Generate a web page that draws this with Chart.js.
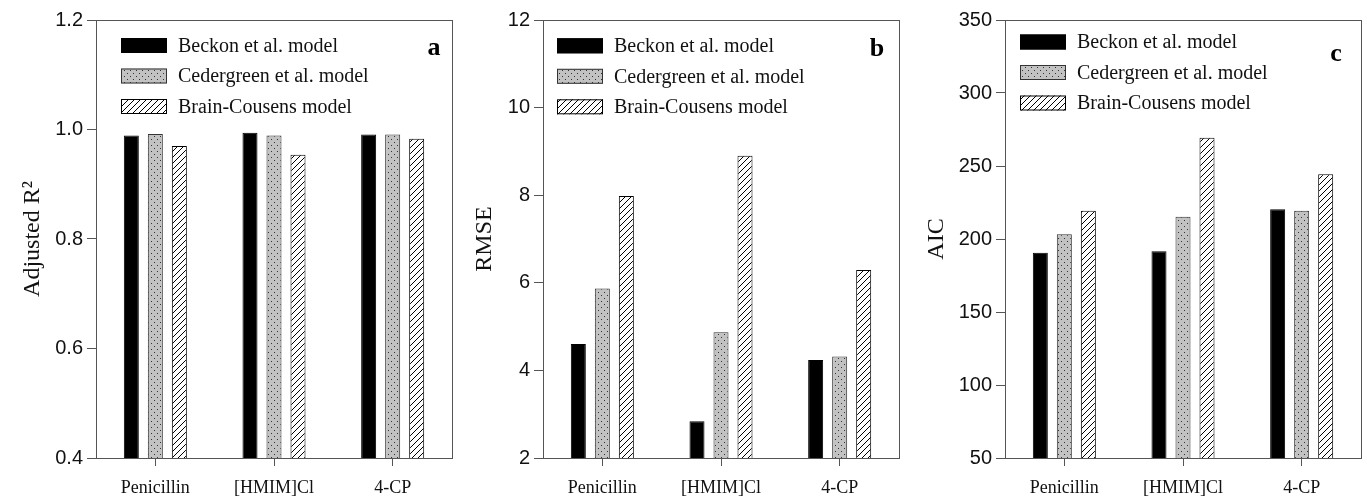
<!DOCTYPE html>
<html>
<head>
<meta charset="utf-8">
<script src="https://cdn.jsdelivr.net/npm/chart.js@4"></script>
<style>
  body { margin: 0; background: #fff; }
  #wrap { position: relative; width: 1367px; height: 502px; }
  canvas { position: absolute; top: 0; }
</style>
</head>
<body>
<div id="wrap">
  <canvas id="chartA" width="470" height="502" style="left:0px"></canvas>
  <canvas id="chartB" width="458" height="502" style="left:462px"></canvas>
  <canvas id="chartC" width="445" height="502" style="left:922px"></canvas>
</div>
<script>
const categories = ['Penicillin', '[HMIM]Cl', '4-CP'];
const modelNames = ['Beckon et al. model', 'Cedergreen et al. model', 'Brain-Cousens model'];

// a - adjusted R2
const r2Beckon = [0.989, 0.994, 0.991];
const r2Cedergreen = [0.992, 0.989, 0.991];
const r2BrainCousens = [0.970, 0.954, 0.983];

// b - RMSE
const rmseBeckon = [4.60, 2.84, 4.24];
const rmseCedergreen = [5.87, 4.87, 4.32];
const rmseBrainCousens = [7.98, 8.90, 6.29];

// c - AIC
const aicBeckon = [190.6, 191.6, 220.3];
const aicCedergreen = [203.2, 215.3, 219.4];
const aicBrainCousens = [219.4, 269.4, 244.3];

const SERIF = "'Liberation Serif', 'Times New Roman', serif";
const SANS = "'Liberation Sans', Arial, sans-serif";

function makePattern(kind) {
  const c = document.createElement('canvas');
  c.width = 6; c.height = 6;
  const g = c.getContext('2d');
  if (kind === 'dots') {
    g.fillStyle = '#c2c2c2';
    g.fillRect(0, 0, 6, 6);
    g.fillStyle = '#333';
    g.fillRect(1, 1, 1, 1);
    g.fillRect(4, 4, 1, 1);
  } else {
    g.fillStyle = '#fff';
    g.fillRect(0, 0, 6, 6);
    g.strokeStyle = '#000';
    g.lineWidth = 1;
    g.beginPath();
    g.moveTo(0, 6); g.lineTo(6, 0);
    g.moveTo(-1, 1); g.lineTo(1, -1);
    g.moveTo(5, 7); g.lineTo(7, 5);
    g.stroke();
  }
  return g.createPattern(c, 'repeat');
}

const dotFill = makePattern('dots');
const hatchFill = makePattern('hatch');

// frame, inside legend and panel letter
const panelDecor = {
  id: 'panelDecor',
  afterDraw(chart, args, o) {
    const { ctx, chartArea: a } = chart;
    ctx.save();
    ctx.strokeStyle = '#555';
    ctx.lineWidth = 1;
    ctx.strokeRect(Math.round(a.left) + 0.5, Math.round(a.top) + 0.5,
      Math.round(a.right - a.left), Math.round(a.bottom - a.top));

    chart.data.datasets.forEach((ds, i) => {
      const x = a.left + o.legendX;
      const cy = a.top + o.legendY + i * 30.5;
      ctx.fillStyle = ds.backgroundColor;
      ctx.fillRect(x, cy - 7.5, 46, 15);
      ctx.strokeStyle = ds.borderColor;
      ctx.strokeRect(x + 0.5, cy - 7, 45, 14);
      ctx.fillStyle = '#111';
      ctx.font = '20px ' + SERIF;
      ctx.textAlign = 'left';
      ctx.textBaseline = 'middle';
      ctx.fillText(ds.label, x + 57, cy + 1);
    });

    ctx.font = 'bold 26px ' + SERIF;
    ctx.textAlign = 'center';
    ctx.textBaseline = 'middle';
    ctx.fillStyle = '#000';
    ctx.fillText(o.letter, a.right - o.letterX, a.top + o.letterY);
    ctx.restore();
  }
};

function drawPanel(id, p) {
  new Chart(document.getElementById(id), {
    type: 'bar',
    data: {
      labels: categories,
      datasets: [
        { label: modelNames[0], data: p.series[0], backgroundColor: '#000', borderColor: '#000', borderWidth: 1 },
        { label: modelNames[1], data: p.series[1], backgroundColor: dotFill, borderColor: '#333', borderWidth: 1 },
        { label: modelNames[2], data: p.series[2], backgroundColor: hatchFill, borderColor: '#000', borderWidth: 1 }
      ]
    },
    options: {
      responsive: false,
      animation: false,
      layout: { padding: { top: 20, right: p.padRight, left: 0, bottom: 0 } },
      datasets: { bar: { categoryPercentage: 0.607, barPercentage: 0.625 } },
      plugins: {
        legend: { display: false },
        tooltip: { enabled: false },
        panelDecor: p.decor
      },
      scales: {
        x: {
          grid: { offset: false, drawOnChartArea: false, drawTicks: true, tickLength: 8, color: '#555' },
          border: { display: false },
          ticks: { font: { family: SERIF, size: 18 }, color: '#111', padding: 11 },
          afterFit: s => { s.height = 44; }
        },
        y: {
          min: p.min,
          max: p.max,
          ticks: {
            stepSize: p.step,
            font: { family: SANS, size: 20 },
            color: '#111',
            padding: 4,
            callback: v => v.toFixed(p.decimals)
          },
          grid: { drawOnChartArea: false, drawTicks: true, tickLength: 9, color: '#555' },
          border: { display: false },
          title: {
            display: true,
            text: p.title,
            font: { family: SERIF, size: 24 },
            color: '#111',
            padding: { top: p.titlePad, bottom: 0 }
          },
          afterFit: s => { s.width = p.axisWidth; }
        }
      }
    },
    plugins: [panelDecor]
  });
}

drawPanel('chartA', {
  series: [r2Beckon, r2Cedergreen, r2BrainCousens],
  min: 0.4, max: 1.2, step: 0.2, decimals: 1,
  title: 'Adjusted R²',
  axisWidth: 96, padRight: 18, titlePad: 18,
  decor: { letter: 'a', letterX: 18, letterY: 28, legendX: 25, legendY: 25.5 }
});

drawPanel('chartB', {
  series: [rmseBeckon, rmseCedergreen, rmseBrainCousens],
  min: 2, max: 12, step: 2, decimals: 0,
  title: 'RMSE',
  axisWidth: 81, padRight: 21, titlePad: 8,
  decor: { letter: 'b', letterX: 22, letterY: 29, legendX: 14, legendY: 25.8 }
});

drawPanel('chartC', {
  series: [aicBeckon, aicCedergreen, aicBrainCousens],
  min: 50, max: 350, step: 50, decimals: 0,
  title: 'AIC',
  axisWidth: 83, padRight: 6, titlePad: 0,
  decor: { letter: 'c', letterX: 25, letterY: 34, legendX: 15, legendY: 22 }
});
</script>
</body>
</html>
